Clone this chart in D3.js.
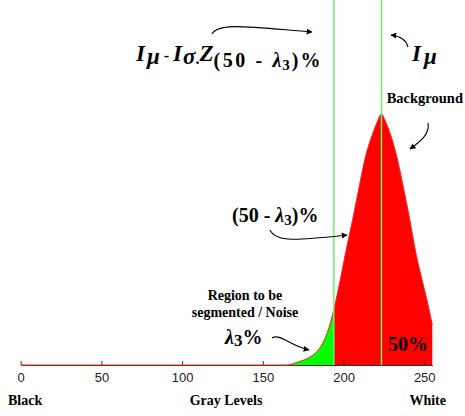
<!DOCTYPE html>
<html>
<head>
<meta charset="utf-8">
<script src="https://cdn.jsdelivr.net/npm/d3@7"></script>
<style>
  body { margin: 0; background: #fff; }
  .lbl { font-family: "Liberation Serif", "Times New Roman", serif; font-weight: bold; fill: #000; }
  .axis text { font-family: "Liberation Sans", Arial, sans-serif; font-size: 13px; fill: #222; }
  .axis path, .axis line { stroke: #333; }
</style>
</head>
<body>
<div id="chart"></div>
<script>
var wd = 465;
var ht = 416;

// histogram of gray levels
var grayLevels = [0, 165, 170, 175, 180, 185, 190, 194, 198, 202, 206, 210, 214, 218, 221, 223.5, 226, 229, 233, 237, 241, 245, 249, 252, 255];
var frequency  = [0, 0, 0.8, 1.9, 3.5, 6.5, 13, 22, 34, 47, 59, 72, 84, 92, 97, 100, 97, 92, 83, 71, 58, 44, 33, 25, 16];
var tickLevels = [0, 50, 100, 150, 200, 250];
var threshold = 194;   // I_mu - I_sigma . Z
var meanLevel = 223.5; // I_mu

var data = grayLevels.map(function(g, i) { return { g: g, f: frequency[i] }; });

var svg = d3.select("#chart").append("svg").attr("width", wd).attr("height", ht);

var defs = svg.append("defs");
defs.append("marker")
    .attr("id", "arrow")
    .attr("viewBox", "0 0 10 10")
    .attr("refX", 9).attr("refY", 5)
    .attr("markerWidth", 6).attr("markerHeight", 6)
    .attr("markerUnits", "userSpaceOnUse")
    .attr("orient", "auto")
  .append("path")
    .attr("d", "M0,0 L10,5 L0,10 Z")
    .attr("fill", "#000");

var xScale = d3.scaleLinear().domain([0, 255]).range([20.7, 432.3]);
var yScale = d3.scaleLinear().domain([0, 100]).range([365, 114]);

var area = d3.area()
    .x(function(d) { return xScale(d.g); })
    .y0(yScale(0))
    .y1(function(d) { return yScale(d.f); })
    .curve(d3.curveMonotoneX);

var line = d3.line()
    .x(function(d) { return xScale(d.g); })
    .y(function(d) { return yScale(d.f); })
    .curve(d3.curveMonotoneX);

// green tail (region to be segmented) and red background
svg.append("path")
   .datum(data.filter(function(d) { return d.g >= 165 && d.g <= threshold; }))
   .attr("d", area)
   .attr("fill", "#00ff00");

svg.append("path")
   .datum(data.filter(function(d) { return d.g >= threshold; }))
   .attr("d", area)
   .attr("fill", "#ff0000");

var xAxis = d3.axisBottom(xScale).tickValues(tickLevels).tickSizeInner(-4).tickSizeOuter(0).tickPadding(8);
svg.append("g").attr("class", "axis x").attr("transform", "translate(0," + yScale(0) + ")").call(xAxis);

svg.append("path")
   .datum(data)
   .attr("d", line)
   .attr("fill", "none")
   .attr("stroke", "#ff2020")
   .attr("stroke-width", 1);

// vertical markers
[threshold, meanLevel].forEach(function(v) {
  svg.append("line")
     .attr("x1", xScale(v)).attr("x2", xScale(v))
     .attr("y1", 0).attr("y2", yScale(0))
     .attr("stroke", "#6cf06c")
     .attr("stroke-width", 1.5);
});

// bottom labels
svg.append("text").attr("class", "lbl").attr("x", 8).attr("y", 405).style("font-size", "14px").text("Black");
svg.append("text").attr("class", "lbl").attr("x", 226).attr("y", 405).attr("text-anchor", "middle").style("font-size", "14px").text("Gray Levels");
svg.append("text").attr("class", "lbl").attr("x", 446).attr("y", 405).attr("text-anchor", "end").style("font-size", "14px").text("White");

// I_mu - I_sigma . Z_(50 - l3)%
var t1 = svg.append("text").attr("class", "lbl").attr("x", 136).attr("y", 61).style("font-size", "23px");
t1.append("tspan").style("font-style", "italic").text("I");
t1.append("tspan").attr("dx", 2).attr("dy", 3).style("font-style", "italic").text("\u03bc");
t1.append("tspan").attr("dy", -3).style("font-size", "16px").text(" - ");
t1.append("tspan").style("font-style", "italic").text("I");
t1.append("tspan").attr("dx", 1).attr("dy", 3).style("font-style", "italic").text("\u03c3");
t1.append("tspan").style("font-size", "16px").text(".");
t1.append("tspan").attr("dy", -3).style("font-style", "italic").text("Z");
var sub = t1.append("tspan").attr("dy", 6).style("font-size", "20px").style("letter-spacing", "2.6px");
sub.text("(50 - ");
t1.append("tspan").style("font-size", "20px").style("font-style", "italic").style("letter-spacing", "1px").text("\u03bb");
t1.append("tspan").attr("dy", 3).style("font-size", "15px").style("letter-spacing", "2px").text("3");
t1.append("tspan").attr("dy", -3).style("font-size", "20px").style("letter-spacing", "2px").text(")%");

var t2 = svg.append("text").attr("class", "lbl").attr("x", 412).attr("y", 61).style("font-size", "23px");
t2.append("tspan").style("font-style", "italic").text("I");
t2.append("tspan").attr("dx", 3).attr("dy", 3).style("font-style", "italic").text("\u03bc");

svg.append("text").attr("class", "lbl").attr("x", 463).attr("y", 103).attr("text-anchor", "end").style("font-size", "14.5px").text("Background");

var t3 = svg.append("text").attr("class", "lbl").attr("x", 232).attr("y", 222).style("font-size", "20px");
t3.append("tspan").text("(50 - ");
t3.append("tspan").style("font-style", "italic").text("\u03bb");
t3.append("tspan").attr("dy", 3).style("font-size", "15px").text("3");
t3.append("tspan").attr("dy", -3).text(")%");

svg.append("text").attr("class", "lbl").attr("x", 245).attr("y", 300).attr("text-anchor", "middle").style("font-size", "14px").text("Region to be");
svg.append("text").attr("class", "lbl").attr("x", 245).attr("y", 317).attr("text-anchor", "middle").style("font-size", "14px").text("segmented / Noise");

var t4 = svg.append("text").attr("class", "lbl").attr("x", 225).attr("y", 344).style("font-size", "20px");
t4.append("tspan").style("font-style", "italic").text("\u03bb");
t4.append("tspan").attr("dy", 2).style("font-size", "17px").text("3");
t4.append("tspan").attr("dy", -2).text("%");

svg.append("text").attr("class", "lbl").attr("x", 388).attr("y", 351).style("font-size", "20px").text("50%");

// curved arrows
var arrows = [
  "M212,34 C218,22 250,27 312,32",
  "M408,47 C406,39 400,36 391,35",
  "M428,123 C430,134 421,141 410,149",
  "M270,230 C276,243 300,240 347,235",
  "M272,338 C280,333 290,346 309,350"
];
arrows.forEach(function(d) {
  svg.append("path").attr("d", d).attr("fill", "none").attr("stroke", "#000").attr("stroke-width", 1.1).attr("marker-end", "url(#arrow)");
});
</script>
</body>
</html>
